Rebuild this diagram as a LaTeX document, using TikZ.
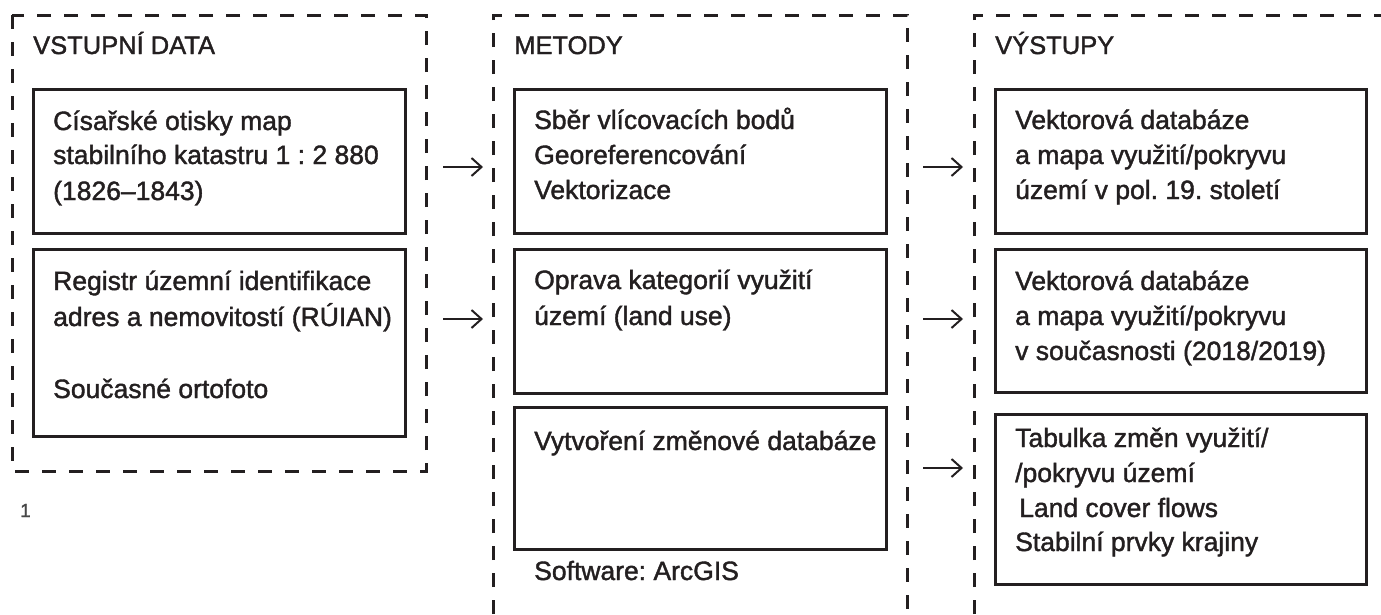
\documentclass[tikz,border=0pt]{standalone}
\usepackage{fontspec}
\setmainfont{Liberation Sans}[FakeBold=1.5]
\usetikzlibrary{arrows.meta}
\definecolor{ink}{RGB}{35,31,32}
\frenchspacing
\begin{document}
\begin{tikzpicture}[x=1pt,y=-1pt,
  frame/.style={line width=3pt, dash pattern=on 14pt off 13pt, draw=ink},
  box/.style={draw=ink, line width=3.2pt, anchor=north west, inner sep=0pt},
  txt/.style={anchor=base west, inner sep=0pt, font=\fontsize{26.5}{35}\selectfont\frenchspacing, text=ink},
  head/.style={anchor=base west, inner sep=0pt, font=\fontsize{25.5}{35}\selectfont, text=ink},
  arr/.style={draw=ink, line width=2pt, -{Straight Barb[length=10pt,width=18pt]}}]
\useasboundingbox (0,0) rectangle (1381,614);
% dashed frames
\draw[frame] (12,15) rectangle (426,471);
\draw[frame] (493,614) -- (493,15) -- (907,15) -- (907,614);
\draw[frame] (974,614) -- (974,15) -- (1381,15);
% headers
\node[head] (h1) at (33,54) {VSTUPNÍ DATA};
\node[head] (h2) at (514,54) {METODY};
\node[head] (h3) at (995,54) {VÝSTUPY};
% boxes column 1
\node[box, minimum width=372pt, minimum height=144pt] (b11) at (32,88) {};
\node[box, minimum width=372pt, minimum height=187pt] (b12) at (32,248) {};
% boxes column 2
\node[box, minimum width=372pt, minimum height=144pt] (b21) at (513,88) {};
\node[box, minimum width=372pt, minimum height=144pt] (b22) at (513,248) {};
\node[box, minimum width=372pt, minimum height=142pt] (b23) at (513,406) {};
% boxes column 3
\node[box, minimum width=371pt, minimum height=144pt] (b31) at (994,88) {};
\node[box, minimum width=371pt, minimum height=143pt] (b32) at (994,248) {};
\node[box, minimum width=371pt, minimum height=170pt] (b33) at (994,413) {};
% texts column 1
\node[txt] (t11a) at (53,130) {Císařské otisky map};
\node[txt] (t11b) at (53,164) {stabilního katastru 1 : 2 880};
\node[txt] (t11c) at (53,200) {(1826–1843)};
\node[txt] (t12a) at (53,290) {Registr územní identifikace};
\node[txt] (t12b) at (53,326) {adres a nemovitostí (RÚIAN)};
\node[txt] (t12c) at (53,398) {Současné ortofoto};
% texts column 2
\node[txt] (t21a) at (534,129) {Sběr vlícovacích bodů};
\node[txt] (t21b) at (534,164) {Georeferencování};
\node[txt] (t21c) at (534,199) {Vektorizace};
\node[txt] (t22a) at (534,289) {Oprava kategorií využití};
\node[txt] (t22b) at (534,325) {území (land use)};
\node[txt] (t23a) at (534,450) {Vytvoření změnové databáze};
\node[txt] (sw) at (534,580) {Software: ArcGIS};
% texts column 3
\node[txt] (t31a) at (1015,129) {Vektorová databáze};
\node[txt] (t31b) at (1015,164) {a mapa využití/pokryvu};
\node[txt] (t31c) at (1015,199) {území v pol. 19. století};
\node[txt] (t32a) at (1015,290) {Vektorová databáze};
\node[txt] (t32b) at (1015,325) {a mapa využití/pokryvu};
\node[txt] (t32c) at (1015,360) {v současnosti (2018/2019)};
\node[txt] (t33a) at (1015,447) {Tabulka změn využití/};
\node[txt] (t33b) at (1015,482) {/pokryvu území};
\node[txt] (t33c) at (1019,517) {Land cover flows};
\node[txt] (t33d) at (1015,551) {Stabilní prvky krajiny};
% figure number
\node[anchor=base west, inner sep=0pt, font=\fontsize{19}{22}\selectfont, text=black!72] (num) at (20,517) {1};
% arrow rows
\coordinate (r1) at (0,167);
\coordinate (r2) at (0,319);
\coordinate (r3) at (0,468);
\draw[arr, shorten <=36pt, shorten >=30pt] (b11.east |- r1) -- (b21.west |- r1);
\draw[arr, shorten <=36pt, shorten >=30pt] (b12.east |- r2) -- (b22.west |- r2);
\draw[arr, shorten <=35pt, shorten >=31pt] (b21.east |- r1) -- (b31.west |- r1);
\draw[arr, shorten <=35pt, shorten >=31pt] (b22.east |- r2) -- (b32.west |- r2);
\draw[arr, shorten <=35pt, shorten >=31pt] (b23.east |- r3) -- (b33.west |- r3);
\end{tikzpicture}
\end{document}
